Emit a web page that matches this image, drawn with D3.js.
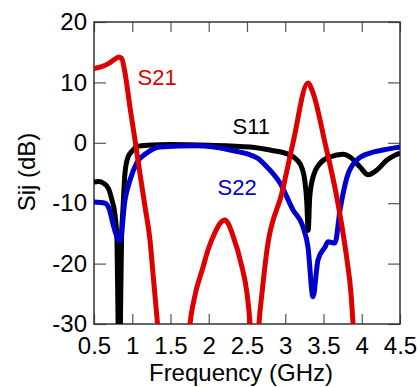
<!DOCTYPE html>
<html>
<head>
<meta charset="utf-8">
<script src="https://cdn.jsdelivr.net/npm/d3@7"></script>
<style>
  body { margin: 0; background: #fff; }
  svg { font-family: "Liberation Sans", Arial, sans-serif; }
</style>
</head>
<body>
<div id="chart"></div>
<script>
// frequency (GHz) / magnitude (dB)
const s21Freq = [0.5, 0.6, 0.7, 0.78, 0.82, 0.86, 0.905, 0.97, 1.036, 1.10, 1.167, 1.232, 1.271, 1.32, 1.34,
  1.40, 1.70, 1.755, 1.807, 1.925, 1.99, 2.08, 2.15, 2.212, 2.26, 2.304, 2.435, 2.5, 2.54, 2.58, 2.62,
  2.657, 2.696, 2.761, 2.957, 3.101, 3.297, 3.363, 3.52, 3.663, 3.742, 3.807, 3.859, 3.886, 3.92];
const s21Db = [12.3, 12.6, 13.2, 13.9, 14.2, 14.0, 11.6, 5.9, 0.45, -5, -10.6, -16.1, -21.6, -28.5, -31.5,
  -40, -40, -30, -26, -20.6, -17.75, -14.9, -13.3, -12.8, -13.5, -14.9, -20.6, -24.9, -30, -40, -40,
  -30, -24.9, -17.75, -8.3, -0.03, 9.9, 8.25, -0.03, -8.3, -13.9, -19.4, -24.9, -30, -40];

const s11Freq = [0.5, 0.56, 0.62, 0.69, 0.735, 0.775, 0.80, 0.815, 0.83, 0.845, 0.86, 0.88, 0.905, 0.945,
  1.01, 1.062, 1.2, 1.5, 2.0, 2.539, 2.8, 3.062, 3.154, 3.219, 3.258, 3.28, 3.30, 3.32, 3.363, 3.454,
  3.585, 3.755, 3.846, 3.977, 4.082, 4.199, 4.33, 4.5];
const s11Db = [-6.5, -6.4, -6.65, -7.6, -9.5, -12, -16, -30, -40, -30, -16, -10.6, -5, -2.35,
  -1.2, -0.6, -0.4, -0.3, -0.4, -0.7, -1.2, -2.0, -2.85, -4.2, -6.5, -9.5, -14.5, -9, -5.7, -3.4,
  -2.35, -1.9, -2.35, -4.0, -5.3, -4.5, -2.85, -1.7];

const s22Freq = [0.5, 0.644, 0.70, 0.76, 0.84, 0.905, 0.97, 1.06, 1.19, 1.36, 1.846, 2.278,
  2.631, 2.761, 2.931, 3.101, 3.232, 3.297, 3.363, 3.428, 3.52, 3.559, 3.65, 3.716, 3.807, 3.938,
  4.108, 4.278, 4.5];
const s22Db = [-9.8, -10.0, -11, -14, -16.3, -9.5, -6.2, -3.3, -1.7, -0.7, -0.5, -1.2,
  -2.5, -4.0, -6.65, -11.1, -13.9, -17.25, -25.5, -19.4, -17.25, -16.4, -16.6, -11.1, -5.7, -2.85,
  -1.7, -1.2, -0.7];

const xTicks = [0.5, 1, 1.5, 2, 2.5, 3, 3.5, 4, 4.5];
const yTicks = [-30, -20, -10, 0, 10, 20];

const W = 420, H = 387;
const margin = { top: 22, right: 20, bottom: 63, left: 94 };
const width = W - margin.left - margin.right;
const height = H - margin.top - margin.bottom;

const svg = d3.select('#chart').append('svg')
  .attr('width', W).attr('height', H);

const g = svg.append('g')
  .attr('transform', `translate(${margin.left},${margin.top})`);

const x = d3.scaleLinear().domain([0.5, 4.5]).range([0, width]);
const y = d3.scaleLinear().domain([-30, 20]).range([height, 0]);

g.append('defs').append('clipPath').attr('id', 'plot-clip')
  .append('rect').attr('width', width).attr('height', height);

// axes with inward ticks on all four sides
const styleAxis = sel => {
  sel.select('.domain').remove();
  sel.selectAll('.tick line').attr('stroke', '#555').attr('stroke-width', 1.2);
  sel.selectAll('text').attr('fill', '#000').style('font-size', '24px')
    .style('font-family', '"Liberation Sans", Arial, sans-serif');
};

g.append('g').attr('transform', `translate(0,${height})`)
  .call(d3.axisBottom(x).tickValues(xTicks).tickSizeInner(-10).tickSizeOuter(0)
    .tickPadding(13).tickFormat(d3.format('')))
  .call(styleAxis);
g.append('g')
  .call(d3.axisTop(x).tickValues(xTicks).tickSizeInner(-10).tickSizeOuter(0).tickFormat(''))
  .call(styleAxis);
g.append('g')
  .call(d3.axisLeft(y).tickValues(yTicks).tickSizeInner(-12).tickSizeOuter(0)
    .tickPadding(7).tickFormat(d => d < 0 ? '-' + Math.abs(d) : d))
  .call(styleAxis);
g.append('g').attr('transform', `translate(${width},0)`)
  .call(d3.axisRight(y).tickValues(yTicks).tickSizeInner(-12).tickSizeOuter(0).tickFormat(''))
  .call(styleAxis);

g.append('rect')
  .attr('width', width).attr('height', height)
  .attr('fill', 'none').attr('stroke', '#333').attr('stroke-width', 1.5);

const line = d3.line()
  .x(d => x(d[0]))
  .y(d => y(d[1]))
  .curve(d3.curveMonotoneX);

const series = [
  { name: 'S11', freq: s11Freq, db: s11Db, color: '#000000' },
  { name: 'S22', freq: s22Freq, db: s22Db, color: '#0000cc' },
  { name: 'S21', freq: s21Freq, db: s21Db, color: '#dd0000' }
];

const lines = g.append('g').attr('clip-path', 'url(#plot-clip)');
series.forEach(s => {
  lines.append('path')
    .datum(s.freq.map((f, i) => [f, s.db[i]]))
    .attr('fill', 'none')
    .attr('stroke', s.color)
    .attr('stroke-width', 5)
    .attr('stroke-linejoin', 'round')
    .attr('d', line);
});

// series labels
const labels = [
  { text: 'S21', f: 1.07, v: 9.5, color: '#dd0000' },
  { text: 'S11', f: 2.31, v: 1.4, color: '#000000' },
  { text: 'S22', f: 2.115, v: -8.6, color: '#0000cc' }
];
g.selectAll('.series-label').data(labels).enter()
  .append('text')
  .attr('class', 'series-label')
  .attr('x', d => x(d.f))
  .attr('y', d => y(d.v))
  .attr('fill', d => d.color)
  .style('font-size', '22px')
  .text(d => d.text);

// axis titles
svg.append('text')
  .attr('x', margin.left + width / 2 - 6)
  .attr('y', 381)
  .attr('text-anchor', 'middle')
  .style('font-size', '24px')
  .text('Frequency (GHz)');

svg.append('text')
  .attr('transform', 'translate(35,172) rotate(-90)')
  .attr('text-anchor', 'middle')
  .style('font-size', '24px')
  .text('Sij (dB)');
</script>
</body>
</html>
